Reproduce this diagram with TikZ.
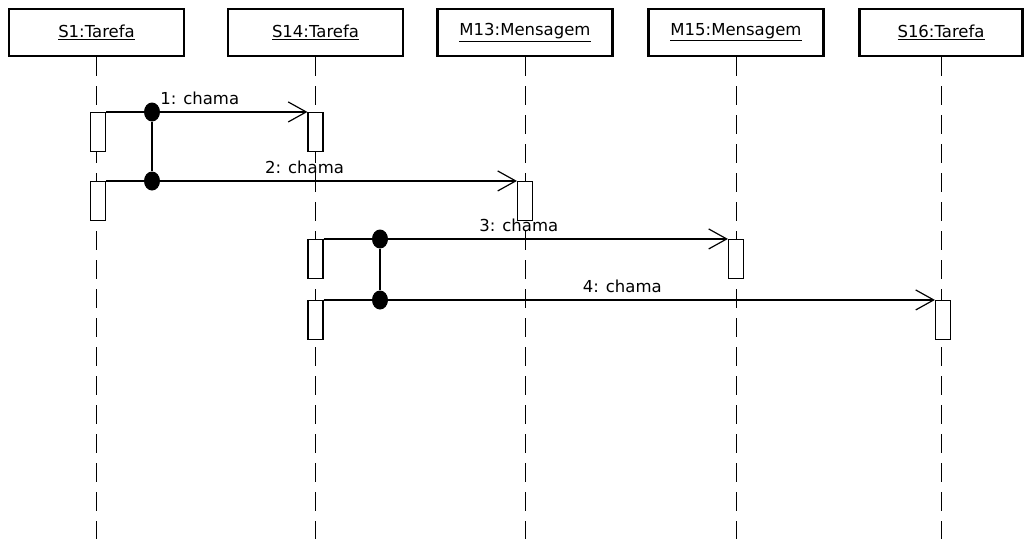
\documentclass[tikz,border=0pt]{standalone}
\usepackage{fontspec}
\setmainfont{DejaVu Sans}
\usetikzlibrary{arrows.meta,positioning,calc,shapes.geometric}
\tikzset{
  font=\fontsize{16.5}{19}\selectfont,
  head/.style={draw, line width=2.4pt, minimum width=175pt, minimum height=47pt,
    inner sep=0pt},
  lifeline/.style={line width=1pt, dash pattern=on 19pt off 10pt},
  act/.style={draw, fill=white, line width=1.1pt, minimum width=15pt,
    minimum height=39pt, inner sep=0pt},
  % messages
  msg/.style={line width=1.2pt,
    -{Straight Barb[length=18pt,width=20pt,line width=1.2pt]}},
  msglbl/.style={midway, anchor=base, yshift=7.5pt, xshift=-7pt, inner sep=0pt},
  forkdot/.style={ellipse, fill=black, minimum width=16pt, minimum height=19pt,
    inner sep=0pt},
  fork/.style={line width=1.2pt},
}

\begin{document}
\begin{tikzpicture}[x=1pt,y=-1pt]
\useasboundingbox (0,0) rectangle (1025,539);

% ---------- objects ----------
\node[head] (S1)  at (96.5,32.5) {\underline{S1:Tarefa}};
\node[head] (S14) at (315.5,32.5) {\underline{S14:Tarefa}};
\node[head] (M13) at (525,32.5) {\underline{M13:Mensagem}};
\node[head] (M15) at (736,32.5) {\underline{M15:Mensagem}};
\node[head, minimum width=163pt] (S16) at (941,32.5) {\underline{S16:Tarefa}};

% ---------- lifelines ----------
\coordinate (bottom) at (0,539);
\foreach \h in {S1,S14,M13,M15,S16}{
  \draw[lifeline] (\h.south) -- (\h.south |- bottom);}

% ---------- activations ----------
\coordinate (r1) at (0,132);
\coordinate (r2) at (0,201);
\coordinate (r3) at (0,259);
\coordinate (r4) at (0,320);
\node[act] (a1) at ($(S1 |- r1)+(1.5,0)$) {};
\node[act] (b1) at (S14 |- r1) {};
\node[act] (a2) at ($(S1 |- r2)+(1.5,0)$) {};
\node[act] (c2) at (M13 |- r2) {};
\node[act] (b3) at (S14 |- r3) {};
\node[act] (d3) at (M15 |- r3) {};
\node[act] (b4) at (S14 |- r4) {};
\node[act] (e4) at ($(S16 |- r4)+(2,0)$) {};

% ---------- calls ----------
\draw[msg] (a1.north east) -- node[msglbl] {1: chama} (b1.north west);
\draw[msg] (a2.north east) -- node[msglbl] {2: chama} (c2.north west);
\draw[msg] (b3.north east) -- node[msglbl] {3: chama} (d3.north west);
\draw[msg] (b4.north east) -- node[msglbl] {4: chama} (e4.north west);

% forks
\node[forkdot] (f1) at (152,112) {};
\node[forkdot] (f2) at (152,181) {};
\node[forkdot] (f3) at (380,239) {};
\node[forkdot] (f4) at (380,300) {};
\draw[fork] (f1) -- (f2);
\draw[fork] (f3) -- (f4);

\end{tikzpicture}
\end{document}
